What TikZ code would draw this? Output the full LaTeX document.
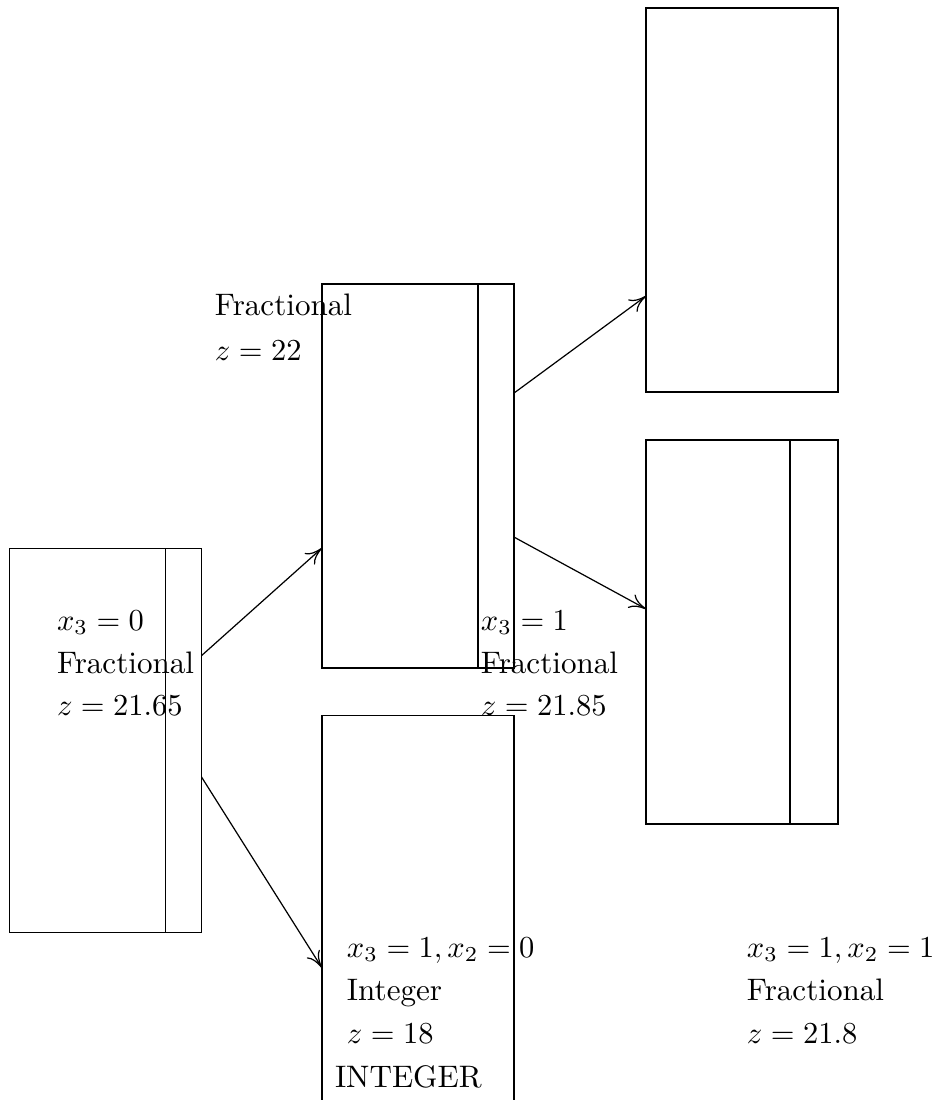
\documentclass[tikz,border=0pt]{standalone}
\usetikzlibrary{calc,arrows.meta}
\begin{document}
\begin{tikzpicture}[x=0.328pt,y=-0.328pt,
  box/.style={draw,rectangle,inner sep=0pt,outer sep=0pt,minimum width=63pt,minimum height=126pt},
  lbl/.style={anchor=base west,inner sep=0pt,outer sep=0pt,font=\fontsize{10.2}{12}\selectfont},
  conn/.style={-{To[length=5.5pt,width=5pt]}}]
\useasboundingbox (0,0) rectangle (940,1100);
% boxes
\node[box] (A) at (105.5,740.5) {};
\node[box] (B) at (418,476) {};
\node[box,minimum height=130pt] (C) at (418,914) {};
\node[box] (D) at (742,200) {};
\node[box] (E) at (742,632) {};
% inner dividers
\draw ($(A.north east)+(-36,0)$) -- ($(A.south east)+(-36,0)$);
\draw ($(B.north east)+(-36,0)$) -- ($(B.south east)+(-36,0)$);
\draw ($(E.north east)+(-48,0)$) -- ($(E.south east)+(-48,0)$);
% connectors
\draw[conn] ($(A.north east)!0.279!(A.south east)$) -- ($(B.north west)!0.6875!(B.south west)$);
\draw[conn] ($(A.north east)!0.595!(A.south east)$) -- ($(C.north west)+(0,252)$);
\draw[conn] ($(B.north east)!0.284!(B.south east)$) -- ($(D.north west)!0.75!(D.south west)$);
\draw[conn] ($(B.north east)!0.659!(B.south east)$) -- ($(E.north west)!0.44!(E.south west)$);
% texts
\node[lbl] (a1) at (57,630) {$x_3 = 0$};
\node[lbl] (a2) at (57,673) {Fractional};
\node[lbl] (a3) at (57,715) {$z = 21.65$};
\node[lbl] (b1) at (215,315) {Fractional};
\node[lbl] (b2) at (215,360) {$z = 22$};
\node[lbl] (m1) at (481,630) {$x_3 = 1$};
\node[lbl] (m2) at (481,673) {Fractional};
\node[lbl] (m3) at (481,715) {$z = 21.85$};
\node[lbl] (c1) at (347,957) {$x_3 = 1, x_2 = 0$};
\node[lbl] (c2) at (347,1000) {Integer};
\node[lbl] (c3) at (347,1043) {$z = 18$};
\node[lbl] (c4) at (335,1087) {INTEGER};
\node[lbl] (e1) at (747,957) {$x_3 = 1, x_2 = 1$};
\node[lbl] (e2) at (747,1000) {Fractional};
\node[lbl] (e3) at (747,1043) {$z = 21.8$};
\end{tikzpicture}
\end{document}
